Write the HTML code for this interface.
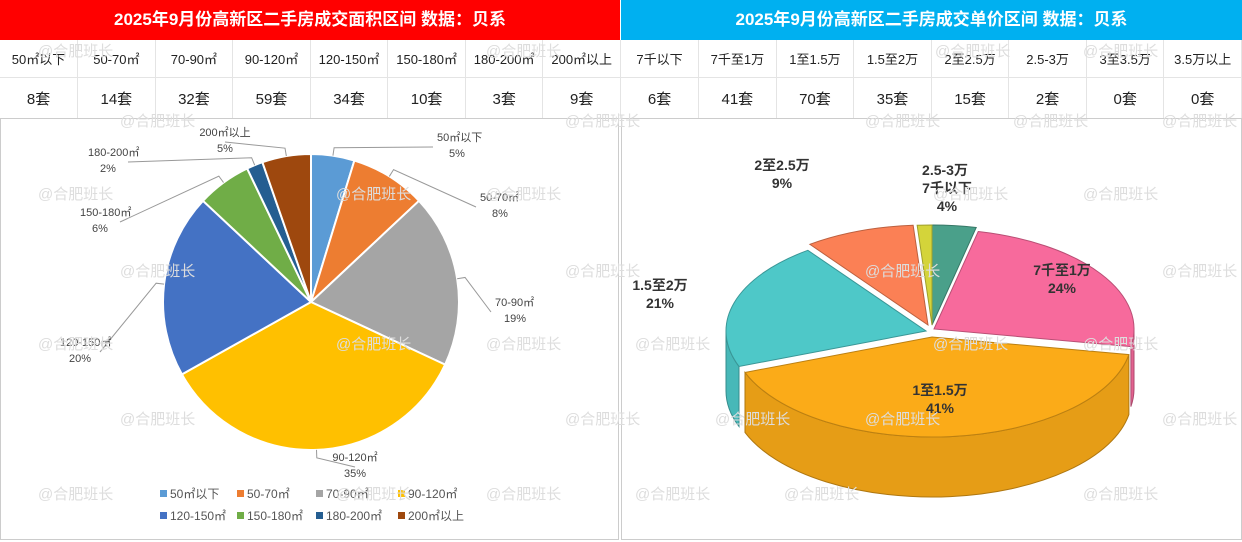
<!DOCTYPE html>
<html><head><meta charset="utf-8">
<style>
body{margin:0;width:1242px;height:542px;background:#fff;font-family:"Liberation Sans","Noto Sans CJK SC",sans-serif;overflow:hidden;position:relative}
.hdr{position:absolute;top:0;height:40px;color:#fff;font-size:17px;font-weight:bold;text-align:center;line-height:40px}
table{position:absolute;top:40px;border-collapse:collapse;table-layout:fixed}
td{text-align:center;color:#222;border-right:1px solid #e4e4e4;border-bottom:1px solid #e4e4e4;padding:0}
.r1 td{height:37px;font-size:13px}
.r2 td{height:40px;font-size:15px}
.wm{position:absolute;color:#ddd;font-size:15px;white-space:nowrap}
svg{position:absolute;left:0;top:0}
</style></head><body>
<div class="hdr" style="left:0;width:620px;background:#ff0000">2025年9月份高新区二手房成交面积区间 数据：贝系</div>
<div class="hdr" style="left:621px;width:621px;background:#00b0f0">2025年9月份高新区二手房成交单价区间 数据：贝系</div>
<table style="left:0;width:621px">
<tr class="r1"><td>50㎡以下</td><td>50-70㎡</td><td>70-90㎡</td><td>90-120㎡</td><td>120-150㎡</td><td>150-180㎡</td><td>180-200㎡</td><td>200㎡以上</td></tr>
<tr class="r2"><td>8套</td><td>14套</td><td>32套</td><td>59套</td><td>34套</td><td>10套</td><td>3套</td><td>9套</td></tr></table>
<table style="left:621px;width:621px">
<tr class="r1"><td>7千以下</td><td>7千至1万</td><td>1至1.5万</td><td>1.5至2万</td><td>2至2.5万</td><td>2.5-3万</td><td>3至3.5万</td><td>3.5万以上</td></tr>
<tr class="r2"><td>6套</td><td>41套</td><td>70套</td><td>35套</td><td>15套</td><td>2套</td><td>0套</td><td>0套</td></tr></table>
<div style="position:absolute;left:0;top:118px;width:619px;height:422px;border:1px solid #ccc;box-sizing:border-box"></div>
<div style="position:absolute;left:621px;top:118px;width:621px;height:422px;border:1px solid #ccc;box-sizing:border-box"></div>
<svg id="s" width="1242" height="542"></svg>
<div id="wms"></div>
<script>
const areaCats=["50㎡以下","50-70㎡","70-90㎡","90-120㎡","120-150㎡","150-180㎡","180-200㎡","200㎡以上"];
const areaVals=[8,14,32,59,34,10,3,9];
const priceCats=["7千以下","7千至1万","1至1.5万","1.5至2万","2至2.5万","2.5-3万","3至3.5万","3.5万以上"];
const priceVals=[6,41,70,35,15,2,0,0];
const areaColors=["#5b9bd5","#ed7d31","#a5a5a5","#ffc000","#4472c4","#70ad47","#255e91","#9e480e"];
const priceColors=["#4aa08a","#f76a9c","#fbab18","#4ec8c8","#fb8055","#d4d43a","#888","#888"];
const NS="http://www.w3.org/2000/svg";
const svg=document.getElementById('s');
function mk(t,a,p){const e=document.createElementNS(NS,t);for(const k in a)e.setAttribute(k,a[k]);(p||svg).appendChild(e);return e;}
function txt(x,y,s,o){const e=mk('text',Object.assign({x:x,y:y,'font-size':11,fill:'#444','text-anchor':'middle','font-family':'Liberation Sans,Noto Sans CJK SC,sans-serif'},o||{}));e.textContent=s;return e;}
// left pie
const cx=311,cy=302,R=148;
const tot=areaVals.reduce((a,b)=>a+b,0);
let a0=-Math.PI/2;
const lblPos=[[437,145,"start"],[480,205,"start"],[495,310,"start"],[355,465,"middle"],[60,350,"start"],[80,220,"start"],[88,160,"start"],[225,140,"middle"]];
areaVals.forEach((v,i)=>{
 const a1=a0+v/tot*2*Math.PI;
 const x0=cx+R*Math.cos(a0),y0=cy+R*Math.sin(a0),x1=cx+R*Math.cos(a1),y1=cy+R*Math.sin(a1);
 const p=mk('path',{d:`M${cx},${cy}L${x0},${y0}A${R},${R} 0 ${a1-a0>Math.PI?1:0} 1 ${x1},${y1}Z`,fill:areaColors[i],stroke:'#fff','stroke-width':2});
 
 
 const am=(a0+a1)/2;
 const lx=cx+(R+8)*Math.cos(am),ly=cy+(R+8)*Math.sin(am);
 const [tx,ty,an]=lblPos[i];
 mk('polyline',{points:`${cx+R*Math.cos(am)},${cy+R*Math.sin(am)} ${lx},${ly} ${an==='start'&&tx>cx?tx-4:tx+(an==='start'?40:0)},${ty+2}`,fill:'none',stroke:'#999','stroke-width':1});
 const t1=txt(tx,ty-4,areaCats[i],{'text-anchor':an});
 
 
 txt(tx+(an==='start'?20:0),ty+12,Math.round(v/tot*100)+'%',{'text-anchor':an==='start'?'middle':an});
 a0=a1;
});
// legend
areaCats.forEach((c,i)=>{
 const r=i<4?0:1,k=i%4;
 const x=[160,237,316,398][k]+(r?0:0),y=498+r*22;
 const sq=mk('rect',{x:x,y:y-8,width:7,height:7,fill:areaColors[i]});
 
 
 txt(x+10,y,c,{'text-anchor':'start',fill:'#555','font-size':12});
});
// right 3D pie
const pcx=932,pcy=325,rx=200,ry=100,dep=60;
const ptot=priceVals.reduce((a,b)=>a+b,0);
const off=[[0,0],[2,4],[0,12],[-6,6],[-4,0],[0,0],[0,0],[0,0]];
function shade(h,f){const n=parseInt(h.slice(1),16);let r=n>>16,g=(n>>8)&255,b=n&255;return `rgb(${r*f|0},${g*f|0},${b*f|0})`;}
let b0=-Math.PI/2;const sl=[];
priceVals.forEach((v,i)=>{const b1=b0+v/ptot*2*Math.PI;sl.push([b0,b1]);b0=b1;});
// sides first
const order=[0,1,3,4,5,2];
order.forEach(i=>{
 const [s,e]=sl[i];if(e-s<=0)return;
 const dx=pcx+off[i][0],dy=pcy+off[i][1];
 // front side: portion with sin>0
 const ss=Math.max(s,0),ee=Math.min(e,Math.PI);
 const segs=[];if(ee>ss)segs.push([ss,ee]);
 const s2=Math.max(s,2*Math.PI),e2=Math.min(e,3*Math.PI);if(e2>s2)segs.push([s2,e2]);
 segs.forEach(([p,q])=>{
  const X=a=>dx+rx*Math.cos(a),Y=a=>dy+ry*Math.sin(a);
  mk('path',{d:`M${X(p)},${Y(p)}A${rx},${ry} 0 0 1 ${X(q)},${Y(q)}L${X(q)},${Y(q)+dep}A${rx},${ry} 0 0 0 ${X(p)},${Y(p)+dep}Z`,fill:shade(priceColors[i],0.92),stroke:shade(priceColors[i],0.7),'stroke-width':1});
 });
});
sl.forEach(([s,e],i)=>{
 if(e-s<=0)return;
 const dx=pcx+off[i][0],dy=pcy+off[i][1];
 const X=a=>dx+rx*Math.cos(a),Y=a=>dy+ry*Math.sin(a);
 const p=mk('path',{d:`M${dx},${dy}L${X(s)},${Y(s)}A${rx},${ry} 0 ${e-s>Math.PI?1:0} 1 ${X(e)},${Y(e)}Z`,fill:priceColors[i],stroke:shade(priceColors[i],0.75),'stroke-width':1});
 
 
});
const plbl=[[947,193],[1062,275],[940,395],[660,290],[782,170],[945,175]];
plbl.forEach(([x,y],i)=>{
 const o={'font-size':14,'font-weight':'bold',fill:'#333'};
 const t=txt(x,y,priceCats[i],o);
 
 
 if(i!==5)txt(x,y+18,Math.round(priceVals[i]/ptot*100)+'%',o);
});
// watermarks
const w=document.getElementById('wms');
[[38,40],[486,40],[935,40],[1083,40],[120,110],[565,110],[865,110],[1013,110],[1162,110],[38,183],[336,183],[486,183],[933,183],[1083,183],[120,260],[565,260],[865,260],[1162,260],[38,333],[336,333],[486,333],[635,333],[933,333],[1083,333],[120,408],[565,408],[715,408],[865,408],[1162,408],[38,483],[336,483],[486,483],[635,483],[784,483],[1083,483]].forEach(([x,y],i)=>{
 const d=document.createElement('div');d.className='wm';d.style.left=x+'px';d.style.top=y+'px';d.textContent='@合肥班长';
 
 
 w.appendChild(d);
});
</script>
</body></html>
